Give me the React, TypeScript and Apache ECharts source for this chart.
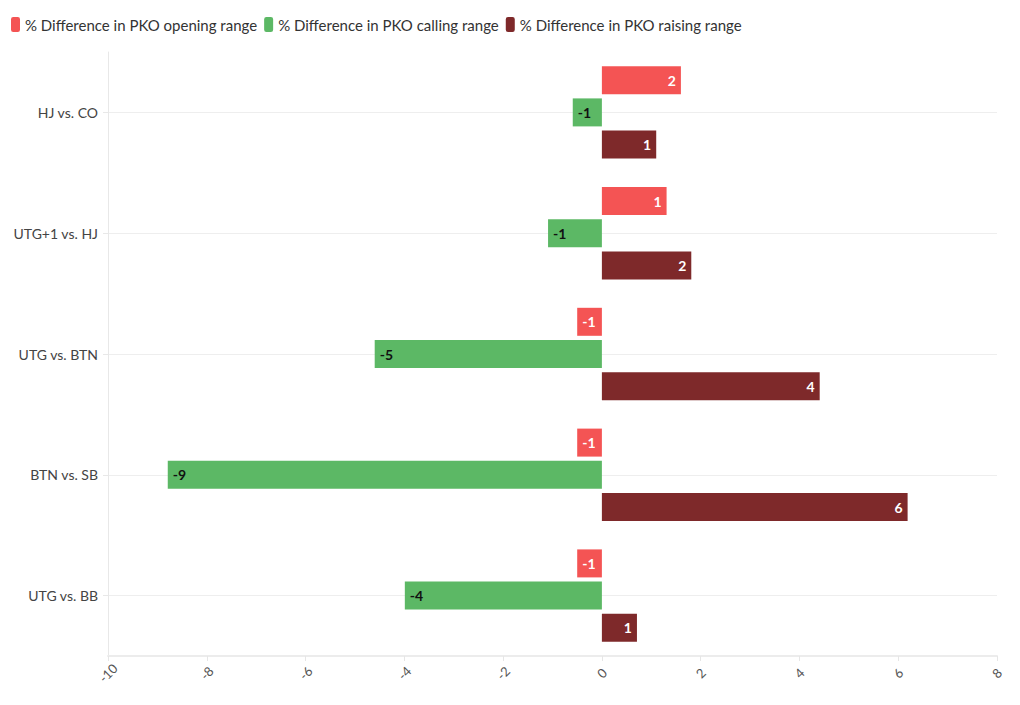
import React, { useEffect, useRef } from "react";
import * as echarts from "echarts";

const categories = ["HJ vs. CO", "UTG+1 vs. HJ", "UTG vs. BTN", "BTN vs. SB", "UTG vs. BB"];
const openingValues = [1.6, 1.31, -0.5, -0.5, -0.5];
const callingValues = [-0.59, -1.09, -4.6, -8.79, -3.99];
const raisingValues = [1.1, 1.81, 4.41, 6.19, 0.71];
const seriesNames = [
  "% Difference in PKO opening range",
  "% Difference in PKO calling range",
  "% Difference in PKO raising range",
];
const xTicks = { min: -10, max: 8, interval: 2 };

const FONT = "Lato, 'Noto Sans', sans-serif";

export default function App() {
  const ref = useRef<HTMLDivElement>(null);
  useEffect(() => {
    if (!ref.current) return;
    const chart = echarts.init(ref.current, null, { renderer: "svg" });
    const colors = ["#F45454", "#5CB865", "#7E292A"];
    const labelColors = ["#ffffff", "#111111", "#ffffff"];
    const datasets = [openingValues, callingValues, raisingValues];
    chart.setOption({
      animation: false,
      textStyle: { fontFamily: FONT },
      color: colors,
      legend: {
        left: 6,
        top: 12,
        itemWidth: 9,
        itemHeight: 15,
        itemGap: 7,
        icon: "roundRect",
        textStyle: { fontSize: 15, color: "#333", fontFamily: FONT },
        data: seriesNames,
      },
      grid: { left: 108, right: 23, top: 52, bottom: 49 },
      xAxis: {
        type: "value",
        min: xTicks.min,
        max: xTicks.max,
        interval: xTicks.interval,
        splitLine: { show: false },
        axisLine: { show: true, lineStyle: { color: "#ececec", width: 2 } },
        axisTick: { show: true, length: 5, lineStyle: { color: "#e6e6e6" } },
        axisLabel: {
          rotate: 45,
          align: "center",
          verticalAlign: "middle",
          margin: 17,
          fontSize: 13,
          color: "#555",
          fontFamily: FONT,
        },
      },
      yAxis: {
        type: "category",
        inverse: true,
        data: categories,
        axisLine: { show: true, onZero: false, lineStyle: { color: "#e8e8e8" } },
        axisTick: { show: true, alignWithLabel: true, length: 5, lineStyle: { color: "#e8e8e8" } },
        splitLine: { show: true, alignWithLabel: true, lineStyle: { color: "#eeeeee" } },
        axisLabel: { fontSize: 14, color: "#444", margin: 10, fontFamily: FONT },
      },
      series: datasets.map((vals, i) => ({
        name: seriesNames[i],
        type: "bar",
        barWidth: 28,
        barGap: "15%",
        data: vals.map((v) => ({
          value: v,
          label: { position: v < 0 ? "insideLeft" : "insideRight" },
        })),
        itemStyle: { color: colors[i] },
        label: {
          show: true,
          position: "insideRight",
          distance: 5,
          color: labelColors[i],
          fontWeight: "bold",
          fontSize: 14,
          fontFamily: FONT,
          formatter: (p: any) => Number(p.value).toFixed(0),
        },
      })),
    });
    return () => chart.dispose();
  }, []);
  return (
    <div
      ref={ref}
      style={{ position: "absolute", left: 0, top: 0, width: 1020, height: 705, background: "#fff" }}
    />
  );
}
